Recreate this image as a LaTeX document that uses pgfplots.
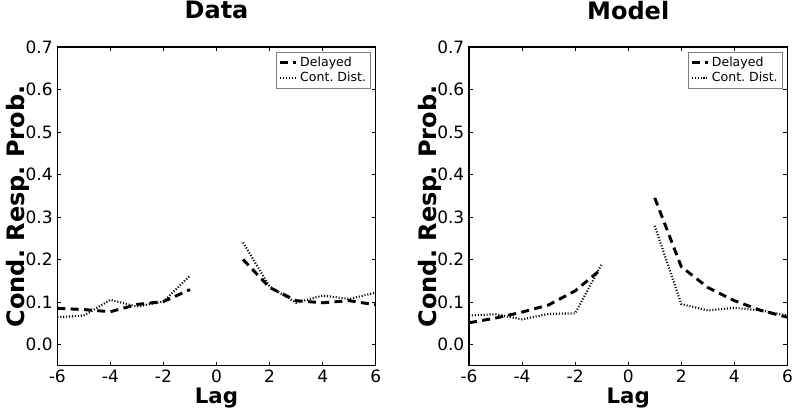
\documentclass[border=0pt]{standalone}
\usepackage{fontspec}
\setmainfont{DejaVu Sans}
\usepackage{pgfplots}
\pgfplotsset{compat=1.18}
\frenchspacing

\pgfplotsset{
  lagaxis/.style={
    scale only axis, width=238.8pt, height=239pt,
    xmin=-6, xmax=6, ymin=-0.05, ymax=0.7,
    xtick={-6,-4,...,6}, ytick={0,0.1,...,0.7},
    tick align=inside, major tick length=3pt,
    tick style={black, line width=0.5pt},
    axis line style={line width=0.8pt},
    /pgf/number format/assume math mode=true,
    yticklabel style={/pgf/number format/.cd, fixed, fixed zerofill, precision=1},
    ticklabel style={font=\fontsize{12.75}{14}\selectfont},
    xlabel={\textbf{Lag}},
    ylabel={\textbf{Cond. Resp. Prob.}},
    xlabel style={font=\fontsize{16}{18}\selectfont, at={(axis description cs:0.5,-0.101)}, anchor=center},
    ylabel style={font=\fontsize{18}{20}\selectfont, at={(axis description cs:-0.1235,0.5)}, anchor=center},
    title style={font=\fontsize{18}{20}\selectfont\bfseries, at={(axis description cs:0.5,1.09)}, anchor=center},
    legend style={at={(0.985,0.985)}, anchor=north east, draw=gray, line width=0.4pt,
      font=\fontsize{9.4}{10}\selectfont, inner sep=1.5pt, row sep=-1pt, cells={anchor=west}},
    legend image code/.code={\draw[#1] (0pt,0pt) -- (12pt,0pt);},
  },
  delay/.style={black, line width=2.2pt, dash pattern=on 6pt off 4pt},
  cont/.style={black, line width=1.6pt, dash pattern=on 0.8pt off 1.4pt},
}

\begin{document}
\begin{tikzpicture}
\path[use as bounding box] (0,0) rectangle (600pt,311.25pt);

\begin{axis}[lagaxis, at={(43pt,37pt)}, anchor=south west, title={Data}]
  \addplot[delay] coordinates {(-6,0.085) (-5,0.082) (-4,0.077) (-3,0.094) (-2,0.101) (-1,0.129)};
  \addlegendentry{Delayed}
  \addplot[cont] coordinates {(-6,0.064) (-5,0.068) (-4,0.105) (-3,0.089) (-2,0.101) (-1,0.162)};
  \addlegendentry{Cont. Dist.}
  \addplot[delay, forget plot] coordinates {(1,0.200) (2,0.134) (3,0.103) (4,0.098) (5,0.103) (6,0.093)};
  \addplot[cont, forget plot] coordinates {(1,0.240) (2,0.136) (3,0.098) (4,0.115) (5,0.107) (6,0.122)};
\end{axis}

\begin{axis}[lagaxis, at={(351.75pt,37pt)}, anchor=south west, title={Model}]
  \addplot[delay] coordinates {(-6,0.051) (-5,0.062) (-4,0.076) (-3,0.093) (-2,0.126) (-1,0.178)};
  \addlegendentry{Delayed}
  \addplot[cont] coordinates {(-6,0.068) (-5,0.071) (-4,0.059) (-3,0.072) (-2,0.073) (-1,0.189)};
  \addlegendentry{Cont. Dist.}
  \addplot[delay, forget plot] coordinates {(1,0.345) (2,0.183) (3,0.134) (4,0.103) (5,0.080) (6,0.064)};
  \addplot[cont, forget plot] coordinates {(1,0.279) (2,0.095) (3,0.080) (4,0.086) (5,0.080) (6,0.068)};
\end{axis}
\end{tikzpicture}
\end{document}
